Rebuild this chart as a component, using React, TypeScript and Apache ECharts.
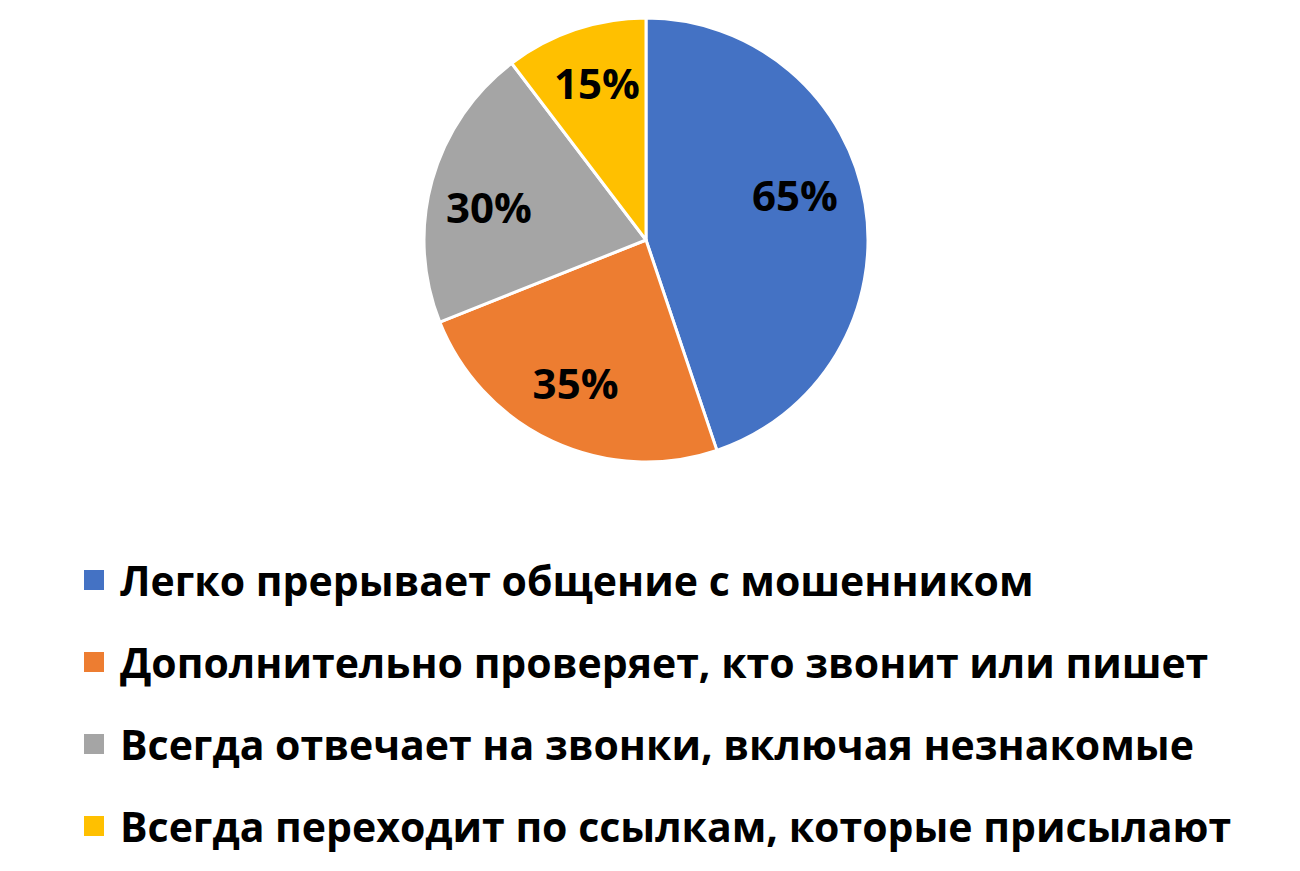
import React, { useEffect, useRef } from "react";
import * as echarts from "echarts";

const categories = [
  "Легко прерывает общение с мошенником",
  "Дополнительно проверяет, кто звонит или пишет",
  "Всегда отвечает на звонки, включая незнакомые",
  "Всегда переходит по ссылкам, которые присылают",
];
const values = [65, 35, 30, 15];
const colors = ["#4472C4", "#ED7D31", "#A5A5A5", "#FFC000"];
const labelOffsets = [
  [-12, -19],
  [-2, -5],
  [0, 10],
  [3, -3],
];

const FONT = "'Open Sans', 'Noto Sans', sans-serif";

export default function App() {
  const ref = useRef<HTMLDivElement>(null);
  useEffect(() => {
    if (!ref.current) return;
    const chart = echarts.init(ref.current, null, { renderer: "svg" });
    const data = categories.map((name, i) => ({
      name,
      value: values[i],
      itemStyle: { color: colors[i] },
    }));
    chart.setOption({
      animation: false,
      legend: {
        orient: "vertical",
        left: 77,
        top: 554,
        icon: "rect",
        itemWidth: 22,
        itemHeight: 22,
        itemGap: 40,
        selectedMode: false,
        textStyle: {
          fontFamily: FONT,
          fontWeight: "bold",
          fontSize: 41,
          lineHeight: 42,
          color: "#000",
          padding: [0, 0, 0, 10],
        },
        data: categories,
      },
      series: [
        {
          type: "pie",
          center: [646, 240],
          radius: [0, 222],
          startAngle: 90,
          clockwise: true,
          silent: true,
          label: { show: false },
          labelLine: { show: false },
          itemStyle: { borderColor: "#fff", borderWidth: 3 },
          data,
        },
        {
          type: "pie",
          center: [646, 240],
          radius: [98, 222],
          startAngle: 90,
          clockwise: true,
          silent: true,
          legendHoverLink: false,
          itemStyle: { color: "transparent", borderWidth: 0 },
          label: {
            show: true,
            position: "inside",
            formatter: (p: any) => p.value + "%",
            fontFamily: FONT,
            fontWeight: "bold",
            fontSize: 42,
            color: "#000",
          },
          labelLine: { show: false },
          data: categories.map((name, i) => ({
            name: name + " ",
            value: values[i],
            label: { offset: labelOffsets[i] },
          })),
        },
      ],
    });
    return () => chart.dispose();
  }, []);
  return (
    <div
      ref={ref}
      style={{ position: "absolute", left: 0, top: 0, width: 1300, height: 871, background: "#fff" }}
    />
  );
}
